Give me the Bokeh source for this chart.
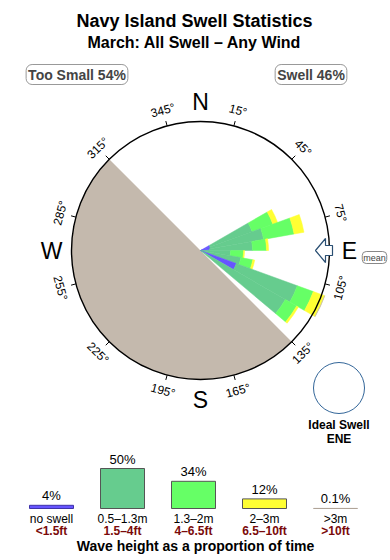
import math
from bokeh.plotting import figure
from bokeh.models import Range1d, Label, ColumnDataSource
from bokeh.core.properties import value
from bokeh.embed import file_html
from bokeh.resources import INLINE

# ---------------- data ----------------
title = "Navy Island Swell Statistics"
subtitle = "March: All Swell – Any Wind"
too_small_label = "Too Small 54%"
swell_label = "Swell 46%"

# 10-degree direction sectors (centre bearing, degrees true)
sector_dirs = [65, 75, 85, 95, 105, 115, 125]
sector_width = 10
# percent of time in each sector per wave-height band
no_swell = [0.08, 0.08, 0.06, 0.00, 0.00, 1.16, 0.00]
h_05_13 = [2.34, 3.20, 2.10, 0.72, 1.34, 7.33, 7.68]
h_13_2 = [2.32, 3.94, 1.32, 0.76, 0.91, 3.03, 2.18]
h_2_3 = [0.64, 1.60, 0.22, 0.07, 0.17, 2.42, 0.36]
h_gt3 = [0.00, 0.00, 0.00, 0.00, 0.00, 0.05, 0.00]
bands = [no_swell, h_05_13, h_13_2, h_2_3, h_gt3]

band_names = ["no swell", "0.5–1.3m", "1.3–2m", "2–3m", ">3m"]
band_feet = ["<1.5ft", "1.5–4ft", "4–6.5ft", "6.5–10ft", ">10ft"]
band_share = [4, 50, 34, 12, 0.1]
band_share_labels = ["4%", "50%", "34%", "12%", "0.1%"]
band_colors = ["#6655ff", "#66cc8e", "#66ff66", "#ffff33", "#c4b8ab"]
band_edges = ["#3f33aa", "#555555", "#555555", "#555555", "#b0a498"]

tick_bearings = [15, 45, 75, 105, 135, 165, 195, 225, 255, 285, 315, 345]
compass_letters = ["N", "E", "S", "W"]
compass_bearings = [0, 90, 180, 270]
shadow_from, shadow_to = 135, 315   # land-shadowed directions
mean_dir = 90
ideal_dir_label = "ENE"
ring_pct = 13.3                      # percent represented by outer ring (area scale)

# ---------------- layout ----------------
W, H = 390, 560
def Y(py):
    return H - py

CX, CY, R = 200, Y(250), 129
K = R / math.sqrt(ring_pct)
FONT = value("Liberation Sans")

p = figure(width=W, height=H, x_range=Range1d(0, W), y_range=Range1d(0, H),
           output_backend="svg", toolbar_location=None,
           x_axis_location=None, y_axis_location=None, min_border=0)
p.grid.visible = False
p.outline_line_color = None
p.background_fill_color = "white"

def bxy(b, r):
    a = math.radians(b)
    return CX + r * math.sin(a), CY + r * math.cos(a)

# titles
p.text(x=[W / 2 - 1], y=[Y(20)], text=[title], text_font=FONT, text_font_size="18px",
       text_font_style="bold", text_align="center", text_baseline="middle")
p.text(x=[W / 2 - 1], y=[Y(42)], text=[subtitle], text_font=FONT, text_font_size="16px",
       text_font_style="bold", text_align="center", text_baseline="middle")

for tx, txt in [(76.5, too_small_label), (310.5, swell_label)]:
    p.add_layout(Label(x=tx, y=Y(74), text=txt, text_font="Liberation Sans",
                       text_font_size="14px", text_font_style="bold",
                       text_align="center", text_baseline="middle",
                       border_line_color="#999999", border_line_width=1,
                       background_fill_color="white", border_radius=6, padding=2))

# rose background
p.circle(x=[CX], y=[CY], radius=R, fill_color="white", line_color=None)
p.wedge(x=[CX], y=[CY], radius=R,
        start_angle=[math.radians(90 - shadow_from)],
        end_angle=[math.radians(90 - shadow_to)],
        direction="clock", fill_color="#c4b9ad", line_color=None)

# stacked sectors (area-proportional radius)
xs, ys, ri, ro, sa, ea, fc = [], [], [], [], [], [], []
for i, d in enumerate(sector_dirs):
    cum = 0.0
    for j, band in enumerate(bands):
        v = band[i]
        if v <= 0:
            continue
        r_in = K * math.sqrt(cum)
        cum += v
        r_out = K * math.sqrt(cum)
        xs.append(CX); ys.append(CY)
        ri.append(r_in); ro.append(r_out)
        sa.append(math.radians(90 - (d + sector_width / 2)))
        ea.append(math.radians(90 - (d - sector_width / 2)))
        fc.append(band_colors[j])
src = ColumnDataSource(dict(x=xs, y=ys, ri=ri, ro=ro, sa=sa, ea=ea, fc=fc))
p.annular_wedge(x="x", y="y", inner_radius="ri", outer_radius="ro",
                start_angle="sa", end_angle="ea", fill_color="fc",
                line_color="fc", line_width=0.5, source=src)

# rim
p.circle(x=[CX], y=[CY], radius=R, fill_color=None, line_color="black", line_width=1.4)

# ticks and degree labels
tx0, ty0, tx1, ty1 = [], [], [], []
lx, ly, lt, la = [], [], [], []
for b in tick_bearings:
    x0, y0 = bxy(b, R)
    x1, y1 = bxy(b, R + 5)
    tx0.append(x0); ty0.append(y0); tx1.append(x1); ty1.append(y1)
    x2, y2 = bxy(b, R + 16)
    lx.append(x2); ly.append(y2); lt.append(f"{b}°")
    if b < 90:
        rot = b
    elif b > 270:
        rot = b - 360
    else:
        rot = b - 180
    la.append(math.radians(-rot))
p.segment(x0=tx0, y0=ty0, x1=tx1, y1=ty1, line_color="black", line_width=1)
p.text(x=lx, y=ly, text=lt, angle=la, text_font=FONT, text_font_size="12px",
       text_align="center", text_baseline="middle", text_color="black")

# compass letters
cx_, cy_ = [], []
for b in compass_bearings:
    x, y = bxy(b, 149)
    cx_.append(x); cy_.append(y)
p.text(x=cx_, y=cy_, text=compass_letters, text_font=FONT, text_font_size="23px",
       text_align="center", text_baseline="middle", text_color="black")

# mean direction arrow
a = math.radians(mean_dir)
u = (math.sin(a), math.cos(a))
v = (math.cos(a), -math.sin(a))
shape = [(115, 0), (125, 12), (125, 5), (132, 5), (132, -5), (125, -5), (125, -12)]
ax = [CX + r * u[0] + w * v[0] for r, w in shape]
ay = [CY + r * u[1] + w * v[1] for r, w in shape]
p.patch(x=ax, y=ay, fill_color="white", line_color="#2a4f73", line_width=1.2)
p.add_layout(Label(x=374, y=Y(257), text="mean", text_font="Liberation Sans",
                   text_font_size="9px", text_align="center", text_baseline="middle",
                   border_line_color="#888888", border_line_width=1,
                   background_fill_color="white", border_radius=4, padding=1))

# ideal swell
p.circle(x=[338.5], y=[Y(387.5)], radius=25.5, fill_color="white",
         line_color="#336699", line_width=1)
p.text(x=[338.5, 338.5], y=[Y(424), Y(438)], text=["Ideal Swell", ideal_dir_label],
       text_font=FONT, text_font_size="12px", text_font_style="bold",
       text_align="center", text_baseline="middle")

# legend
leg_x0, leg_dx, leg_w, leg_base, px_per_pct = 51, 71, 44, 508, 0.8
centers = [leg_x0 + leg_dx * i for i in range(len(band_share))]
tops = [leg_base - s * px_per_pct for s in band_share]
p.quad(left=[c - leg_w / 2 for c in centers], right=[c + leg_w / 2 for c in centers],
       bottom=[Y(leg_base)] * len(centers), top=[Y(t) for t in tops],
       fill_color=band_colors, line_color=band_edges, line_width=1)
p.text(x=centers, y=[Y(t - 9.5) for t in tops], text=band_share_labels,
       text_font=FONT, text_font_size="13px", text_align="center",
       text_baseline="middle")
p.text(x=centers, y=[Y(518)] * len(centers), text=band_names,
       text_font=FONT, text_font_size="12px", text_align="center",
       text_baseline="middle")
p.text(x=centers, y=[Y(530)] * len(centers), text=band_feet,
       text_font=FONT, text_font_size="12px", text_font_style="bold",
       text_color="#7a0a0a", text_align="center", text_baseline="middle")
p.text(x=[W / 2], y=[Y(545)], text=["Wave height as a proportion of time"],
       text_font=FONT, text_font_size="14px", text_font_style="bold",
       text_align="center", text_baseline="middle")

open("out.html", "w").write(file_html(p, INLINE))
